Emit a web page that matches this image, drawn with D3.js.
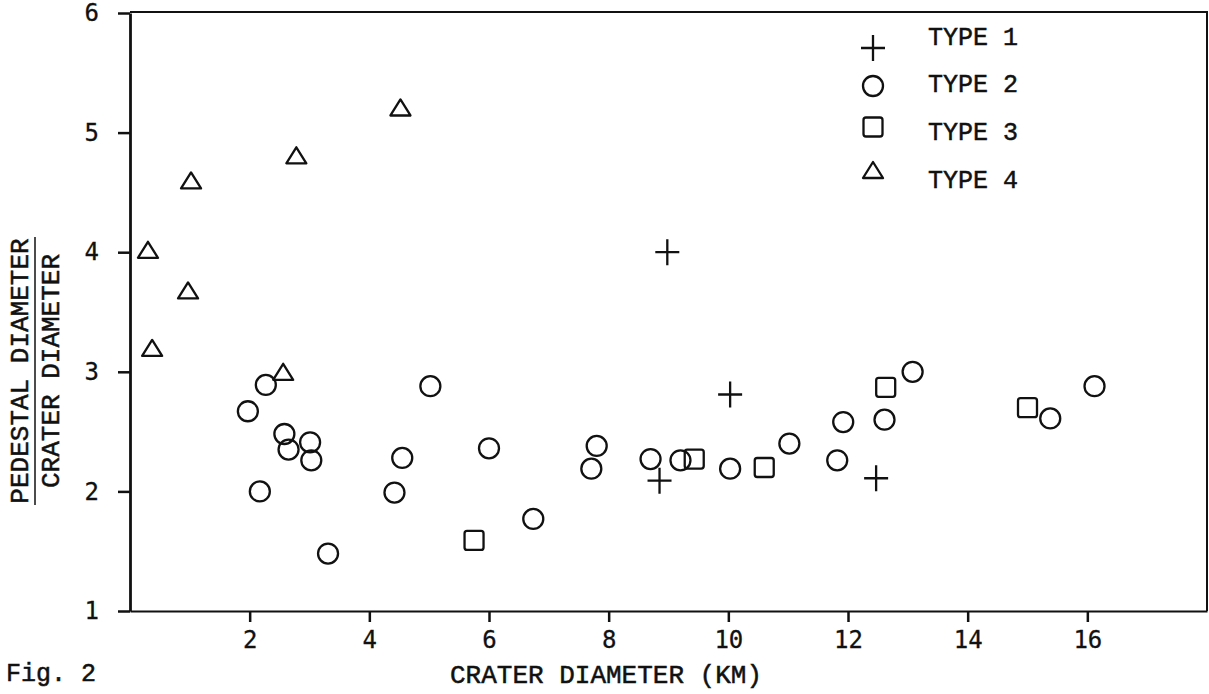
<!DOCTYPE html>
<html>
<head>
<meta charset="utf-8">
<title>Fig. 2</title>
<script src="https://d3js.org/d3.v7.min.js"></script>
<style>
body { margin: 0; background: #fff; }
.axis path, .axis line { stroke: #111; }
.axis text { font: 24px "DejaVu Sans Mono", monospace; fill: #111; stroke: #111; stroke-width: 0.3; }
.lbl { font-family: "Liberation Mono", "Courier New", monospace; fill: #111; stroke: #111; stroke-width: 0.5; }
.mark { fill: none; stroke: #111; stroke-width: 2.3; }
</style>
</head>
<body>
<svg width="1209" height="694"></svg>
<script>

// values
var type1 = [[8.98, 4.0], [10.03, 2.81], [8.85, 2.09], [12.47, 2.11]];
var type2 = [[1.97, 2.67], [2.27, 2.89], [2.58, 2.48], [2.65, 2.35], [3.01, 2.41],
             [3.03, 2.26], [2.17, 2.0], [3.31, 1.48], [4.42, 1.99], [4.55, 2.28],
             [5.02, 2.88], [6.0, 2.36], [6.74, 1.77], [7.8, 2.38], [7.71, 2.19],
             [8.7, 2.27], [9.2, 2.26], [10.03, 2.19], [11.02, 2.4], [11.92, 2.58],
             [11.82, 2.26], [12.61, 2.6], [13.08, 3.0], [15.38, 2.61], [16.12, 2.88]];
var type3 = [[5.75, 1.59], [9.43, 2.27], [10.6, 2.2], [12.63, 2.87], [15.0, 2.7]];
var type4 = [[0.3, 4.02], [1.02, 4.6], [0.97, 3.68], [0.37, 3.2], [2.78, 4.81],
             [4.52, 5.21], [2.56, 3.0]];
var xTicks = [2, 4, 6, 8, 10, 12, 14, 16];
var yTicks = [1, 2, 3, 4, 5, 6];
var legendNames = ["TYPE 1", "TYPE 2", "TYPE 3", "TYPE 4"];

var svg = d3.select("svg");

var x = d3.scaleLinear().domain([0, 18]).range([130, 1207]);
var y = d3.scaleLinear().domain([1, 6]).range([611, 13]);

// frame top & right
svg.append("path")
    .attr("d", "M" + x(0) + "," + (y(6) - 1) + "H" + x(18) + "V" + y(1))
    .attr("fill", "none").attr("stroke", "#111").attr("stroke-width", 2);

var gx = svg.append("g").attr("class", "axis")
    .attr("transform", "translate(0," + y(1) + ")")
    .call(d3.axisBottom(x).tickValues(xTicks).tickFormat(d3.format("d"))
      .tickSize(11).tickPadding(9).tickSizeOuter(0));
gx.select(".domain").attr("stroke-width", 2.2);
gx.selectAll(".tick line").attr("stroke-width", 2.5);

var gy = svg.append("g").attr("class", "axis")
    .attr("transform", "translate(" + x(0) + ",0)")
    .call(d3.axisLeft(y).tickValues(yTicks).tickFormat(d3.format("d"))
      .tickSize(12).tickPadding(19).tickSizeOuter(0));
gy.select(".domain").attr("stroke-width", 2.8);
gy.selectAll(".tick line").attr("stroke-width", 2.5);

// symbols
function plus(g) {
  g.append("path").attr("class", "mark").attr("d", "M-12,0H12M0,-13V13");
}
function circ(g) {
  g.append("circle").attr("class", "mark").attr("r", 10);
}
function sq(g) {
  g.append("rect").attr("class", "mark").attr("x", -9.5).attr("y", -9.5)
    .attr("width", 19).attr("height", 19).attr("rx", 2.5);
}
function tri(g) {
  g.append("path").attr("class", "mark").attr("stroke-linejoin", "round")
    .attr("d", "M0,-8L10,8L-10,8Z");
}

var sets = [[type1, plus], [type2, circ], [type3, sq], [type4, tri]];
sets.forEach(function(s) {
  svg.append("g").selectAll("g").data(s[0]).enter().append("g")
      .attr("transform", function(d) { return "translate(" + x(d[0]) + "," + y(d[1]) + ")"; })
      .each(function() { s[1](d3.select(this)); });
});

// legend
var leg = svg.append("g");
var legY = [48, 86, 127, 170];
var legT = [45, 92, 140, 188];
legendNames.forEach(function(name, i) {
  var g = leg.append("g").attr("transform", "translate(873," + legY[i] + ")");
  sets[i][1](g);
  leg.append("text").attr("class", "lbl").attr("x", 928).attr("y", legT[i])
      .attr("font-size", 25).text(name);
});

// titles
svg.append("text").attr("class", "lbl").attr("x", 606).attr("y", 683)
    .attr("text-anchor", "middle").attr("font-size", 26).text("CRATER DIAMETER (KM)");

svg.append("text").attr("class", "lbl").attr("x", 6).attr("y", 681)
    .attr("font-size", 25).text("Fig. 2");

var yt = svg.append("g").attr("transform", "translate(0,371) rotate(-90)");
yt.append("text").attr("class", "lbl").attr("x", 0).attr("y", 28)
    .attr("text-anchor", "middle").attr("font-size", 26).text("PEDESTAL DIAMETER");
yt.append("line").attr("x1", -134).attr("x2", 134).attr("y1", 35).attr("y2", 35)
    .attr("stroke", "#111").attr("stroke-width", 1.5);
yt.append("text").attr("class", "lbl").attr("x", 0).attr("y", 59)
    .attr("text-anchor", "middle").attr("font-size", 26).text("CRATER DIAMETER");

</script>
</body>
</html>
